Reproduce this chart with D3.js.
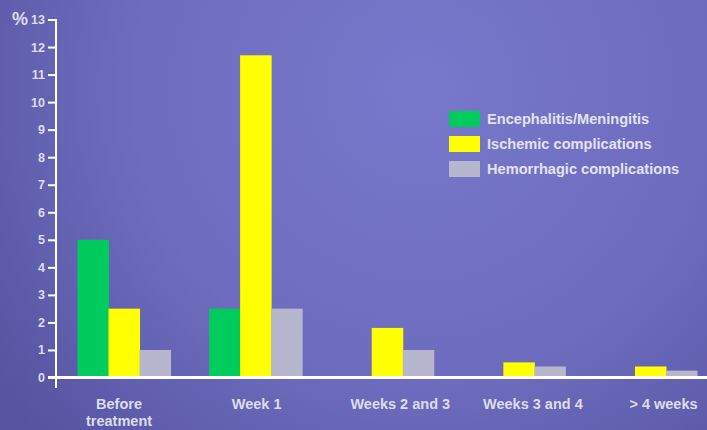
<!DOCTYPE html>
<html>
<head>
<meta charset="utf-8">
<script src="https://cdn.jsdelivr.net/npm/d3@7"></script>
<style>
  html, body { margin: 0; padding: 0; overflow: hidden; }
  svg { display: block; font-family: "Liberation Sans", Arial, sans-serif; font-weight: bold; }
</style>
</head>
<body>
<svg id="chart"></svg>
<script>
const width = 707, height = 430;

// data
const categories = ["Before treatment", "Week 1", "Weeks 2 and 3", "Weeks 3 and 4", "> 4 weeks"];
const seriesNames = ["Encephalitis/Meningitis", "Ischemic complications", "Hemorrhagic complications"];
const encephalitis = [5, 2.5, 0, 0, 0];
const ischemic = [2.5, 11.7, 1.8, 0.55, 0.4];
const hemorrhagic = [1, 2.5, 1, 0.4, 0.25];
const yTicks = [0, 1, 2, 3, 4, 5, 6, 7, 8, 9, 10, 11, 12, 13];

const colors = ["#00cc5e", "#ffff00", "#b6b7cf"];
const labelNudge = [-5, 1, 13, 14, 13]; // category labels sit a little off the group centres

const svg = d3.select("#chart").attr("width", width).attr("height", height);

// background gradient
const defs = svg.append("defs");
const grad = defs.append("radialGradient")
    .attr("id", "bg")
    .attr("gradientUnits", "userSpaceOnUse")
    .attr("cx", 420).attr("cy", 90).attr("r", 520);
grad.append("stop").attr("offset", "0%").attr("stop-color", "#7878cc");
grad.append("stop").attr("offset", "55%").attr("stop-color", "#6d6cbe");
grad.append("stop").attr("offset", "100%").attr("stop-color", "#5654a0");
svg.append("rect").attr("width", width).attr("height", height).attr("fill", "url(#bg)");

const y = d3.scaleLinear().domain([0, 13]).range([377.5, 19.5]);
const x0 = d3.scaleBand().domain(categories).range([77.5, 697]).paddingInner(0.293).paddingOuter(0);
const x1 = d3.scaleBand().domain(seriesNames).range([0, x0.bandwidth()]);

const rows = categories.map((c, i) => ({
    cat: c,
    values: [encephalitis[i], ischemic[i], hemorrhagic[i]]
}));

// bars
const groups = svg.append("g").selectAll("g")
    .data(rows)
    .join("g")
    .attr("transform", d => `translate(${x0(d.cat)},0)`);

groups.selectAll("rect")
    .data(d => d.values.map((v, j) => ({ name: seriesNames[j], value: v, j })))
    .join("rect")
    .filter(d => d.value > 0)
    .attr("x", d => x1(d.name))
    .attr("width", x1.bandwidth() + 0.5)
    .attr("y", d => y(d.value))
    .attr("height", d => y(0) - y(d.value))
    .attr("fill", d => colors[d.j]);

// y axis
const yAxis = d3.axisLeft(y).tickValues(yTicks).tickSize(8).tickPadding(3);
const yg = svg.append("g").attr("transform", "translate(56,0)").call(yAxis);
yg.select(".domain").remove();
yg.selectAll(".tick line").attr("stroke", "#ffffff").attr("stroke-width", 2);
yg.selectAll(".tick text")
    .attr("fill", "#dcdcec")
    .attr("font-size", 12.5)
    .attr("font-family", "Liberation Sans, Arial, sans-serif")
    .attr("font-weight", "bold");

svg.append("line")
    .attr("x1", 56).attr("x2", 56).attr("y1", 19).attr("y2", 388)
    .attr("stroke", "#ffffff").attr("stroke-width", 2);
svg.append("line")
    .attr("x1", 48).attr("x2", width).attr("y1", y(0)).attr("y2", y(0))
    .attr("stroke", "#ffffff").attr("stroke-width", 3);

svg.append("text")
    .attr("x", 12).attr("y", 25)
    .attr("fill", "#dcdcec")
    .attr("font-size", 18)
    .text("%");

// category labels
const catLabels = svg.append("g").selectAll("text")
    .data(categories)
    .join("text")
    .attr("text-anchor", "middle")
    .attr("fill", "#dcdcec")
    .attr("font-size", 14.5)
    .attr("transform", (d, i) => `translate(${x0(d) + x0.bandwidth() / 2 + labelNudge[i]},409)`);

catLabels.each(function (d) {
    const words = d === "Before treatment" ? ["Before", "treatment"] : [d];
    d3.select(this).selectAll("tspan")
        .data(words)
        .join("tspan")
        .attr("x", 0)
        .attr("dy", (w, k) => k === 0 ? 0 : 17)
        .text(w => w);
});

// legend
const legend = svg.append("g").attr("transform", "translate(449,111)");
const items = legend.selectAll("g")
    .data(seriesNames)
    .join("g")
    .attr("transform", (d, i) => `translate(0,${i * 25})`);
items.append("rect")
    .attr("width", 31).attr("height", 16)
    .attr("fill", (d, i) => colors[i]);
items.append("text")
    .attr("x", 38).attr("y", 13)
    .attr("fill", "#e2e2f0")
    .attr("font-size", 14.6)
    .text(d => d);
</script>
</body>
</html>
